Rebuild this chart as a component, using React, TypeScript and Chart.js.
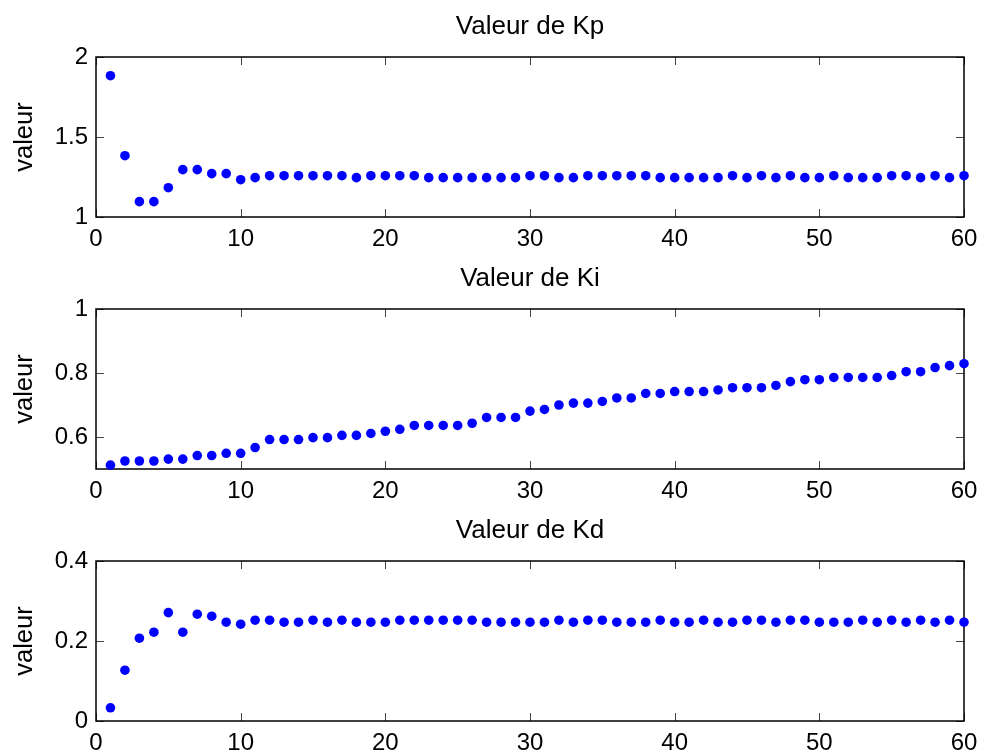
import React, { useEffect, useRef } from 'react';
import { Chart, registerables } from 'chart.js';

Chart.register(...registerables);

const iterations = [
  1, 2, 3, 4, 5, 6, 7, 8, 9, 10, 11, 12, 13, 14, 15, 16, 17, 18, 19, 20,
  21, 22, 23, 24, 25, 26, 27, 28, 29, 30, 31, 32, 33, 34, 35, 36, 37, 38, 39, 40,
  41, 42, 43, 44, 45, 46, 47, 48, 49, 50, 51, 52, 53, 54, 55, 56, 57, 58, 59, 60,
];

const kpValues = [
  1.883, 1.383, 1.096, 1.096, 1.183, 1.296, 1.296, 1.271, 1.271, 1.233,
  1.246, 1.258, 1.258, 1.258, 1.258, 1.258, 1.258, 1.246, 1.258, 1.258,
  1.258, 1.258, 1.246, 1.246, 1.246, 1.246, 1.246, 1.246, 1.246, 1.258,
  1.258, 1.246, 1.246, 1.258, 1.258, 1.258, 1.258, 1.258, 1.246, 1.246,
  1.246, 1.246, 1.246, 1.258, 1.246, 1.258, 1.246, 1.258, 1.246, 1.246,
  1.258, 1.246, 1.246, 1.246, 1.258, 1.258, 1.246, 1.258, 1.246, 1.258,
];

const kiValues = [
  0.512, 0.525, 0.525, 0.525, 0.531, 0.531, 0.542, 0.542, 0.549, 0.549,
  0.567, 0.592, 0.592, 0.592, 0.598, 0.598, 0.605, 0.605, 0.611, 0.618,
  0.624, 0.636, 0.636, 0.636, 0.636, 0.643, 0.661, 0.661, 0.661, 0.681,
  0.686, 0.700, 0.706, 0.706, 0.711, 0.722, 0.722, 0.736, 0.736, 0.742,
  0.742, 0.742, 0.747, 0.754, 0.754, 0.754, 0.761, 0.773, 0.779, 0.779,
  0.786, 0.786, 0.786, 0.786, 0.792, 0.804, 0.804, 0.817, 0.823, 0.829,
];

const kdValues = [
  0.033, 0.127, 0.207, 0.222, 0.271, 0.222, 0.267, 0.262, 0.247, 0.242,
  0.252, 0.252, 0.247, 0.247, 0.252, 0.247, 0.252, 0.247, 0.247, 0.247,
  0.252, 0.252, 0.252, 0.252, 0.252, 0.252, 0.247, 0.247, 0.247, 0.247,
  0.247, 0.252, 0.247, 0.252, 0.252, 0.247, 0.247, 0.247, 0.252, 0.247,
  0.247, 0.252, 0.247, 0.247, 0.252, 0.252, 0.247, 0.252, 0.252, 0.247,
  0.247, 0.247, 0.252, 0.247, 0.252, 0.247, 0.252, 0.247, 0.252, 0.247,
];

const xTicks = [0, 10, 20, 30, 40, 50, 60];
const kpTicks = [1, 1.5, 2];
const kiTicks = [0.6, 0.8, 1];
const kdTicks = [0, 0.2, 0.4];

const FONT = 'Arial, "Liberation Sans", Helvetica, sans-serif';

const matlabAxes = {
  id: 'matlabAxes',
  beforeDatasetsDraw(chart: any) {
    const { ctx, chartArea: a, scales } = chart;
    const xs = scales.x;
    const ys = scales.y;
    const L = 8;
    ctx.save();
    ctx.strokeStyle = '#444';
    ctx.lineWidth = 1;
    ctx.beginPath();
    xs.ticks.forEach((t: any) => {
      const px = Math.round(xs.getPixelForValue(t.value)) + 0.5;
      ctx.moveTo(px, a.bottom);
      ctx.lineTo(px, a.bottom - L);
      ctx.moveTo(px, a.top);
      ctx.lineTo(px, a.top + L);
    });
    ys.ticks.forEach((t: any) => {
      const py = Math.round(ys.getPixelForValue(t.value)) + 0.5;
      ctx.moveTo(a.left, py);
      ctx.lineTo(a.left + L, py);
      ctx.moveTo(a.right, py);
      ctx.lineTo(a.right - L, py);
    });
    ctx.stroke();
    ctx.strokeStyle = '#000';
    ctx.lineWidth = 1.5;
    ctx.strokeRect(a.left, a.top, a.right - a.left, a.bottom - a.top);
    ctx.restore();
  },
};

type PanelProps = {
  top: number;
  height: number;
  xAxisHeight: number;
  title: string;
  values: number[];
  yMin: number;
  yMax: number;
  yTicks: number[];
};

function Panel({ top, height, xAxisHeight, title, values, yMin, yMax, yTicks }: PanelProps) {
  const ref = useRef<HTMLCanvasElement | null>(null);

  useEffect(() => {
    if (!ref.current) return;
    const data = iterations.map((x, i) => ({ x, y: values[i] }));
    const chart = new Chart(ref.current, {
      type: 'scatter',
      data: {
        datasets: [
          {
            data,
            backgroundColor: '#0000ff',
            borderWidth: 0,
            pointRadius: 4.8,
            pointHoverRadius: 4.8,
            clip: false as any,
          },
        ],
      },
      plugins: [matlabAxes],
      options: {
        responsive: false,
        animation: false,
        events: [],
        layout: { padding: { left: 0, right: 18, top: 0, bottom: 0 } },
        plugins: {
          legend: { display: false },
          tooltip: { enabled: false },
          title: {
            display: true,
            text: title,
            fullSize: false,
            color: '#000',
            font: { family: FONT, size: 26, weight: 'normal' as any, lineHeight: 1.2 },
            padding: { top: 11.4, bottom: 14.4 },
          },
        },
        scales: {
          x: {
            type: 'linear',
            min: 0,
            max: 60,
            afterBuildTicks: (scale: any) => {
              scale.ticks = xTicks.map((v) => ({ value: v }));
            },
            afterFit: (scale: any) => {
              scale.height = xAxisHeight;
              scale.paddingLeft = 0;
              scale.paddingRight = 0;
            },
            grid: { display: false, drawTicks: false },
            border: { display: false },
            ticks: {
              color: '#000',
              padding: 8,
              font: { family: FONT, size: 24 },
              maxRotation: 0,
              callback: (v: any) => String(v),
            },
          },
          y: {
            type: 'linear',
            min: yMin,
            max: yMax,
            afterBuildTicks: (scale: any) => {
              scale.ticks = yTicks.map((v) => ({ value: v }));
            },
            afterFit: (scale: any) => {
              scale.width = 96;
              scale.paddingTop = 0;
              scale.paddingBottom = 0;
            },
            grid: { display: false, drawTicks: false },
            border: { display: false },
            title: {
              display: true,
              text: 'valeur',
              color: '#000',
              font: { family: FONT, size: 25.5 },
              padding: { top: 9.5, bottom: 0 },
            },
            ticks: {
              color: '#000',
              padding: 8,
              font: { family: FONT, size: 24 },
              callback: (v: any) => String(v),
            },
          },
        },
      },
    });
    return () => chart.destroy();
  }, [title, values, yMin, yMax, yTicks, xAxisHeight]);

  return (
    <canvas
      ref={ref}
      width={982}
      height={height}
      style={{ position: 'absolute', left: 0, top, width: 982, height, display: 'block' }}
    />
  );
}

export default function App() {
  return (
    <div style={{ position: 'absolute', left: 0, top: 0, width: 982, height: 753, background: '#fff' }}>
      <Panel top={0} height={252} xAxisHeight={35} title="Valeur de Kp" values={kpValues} yMin={1} yMax={2} yTicks={kpTicks} />
      <Panel top={252} height={252} xAxisHeight={35} title="Valeur de Ki" values={kiValues} yMin={0.5} yMax={1} yTicks={kiTicks} />
      <Panel top={504} height={249} xAxisHeight={32} title="Valeur de Kd" values={kdValues} yMin={0} yMax={0.4} yTicks={kdTicks} />
    </div>
  );
}
